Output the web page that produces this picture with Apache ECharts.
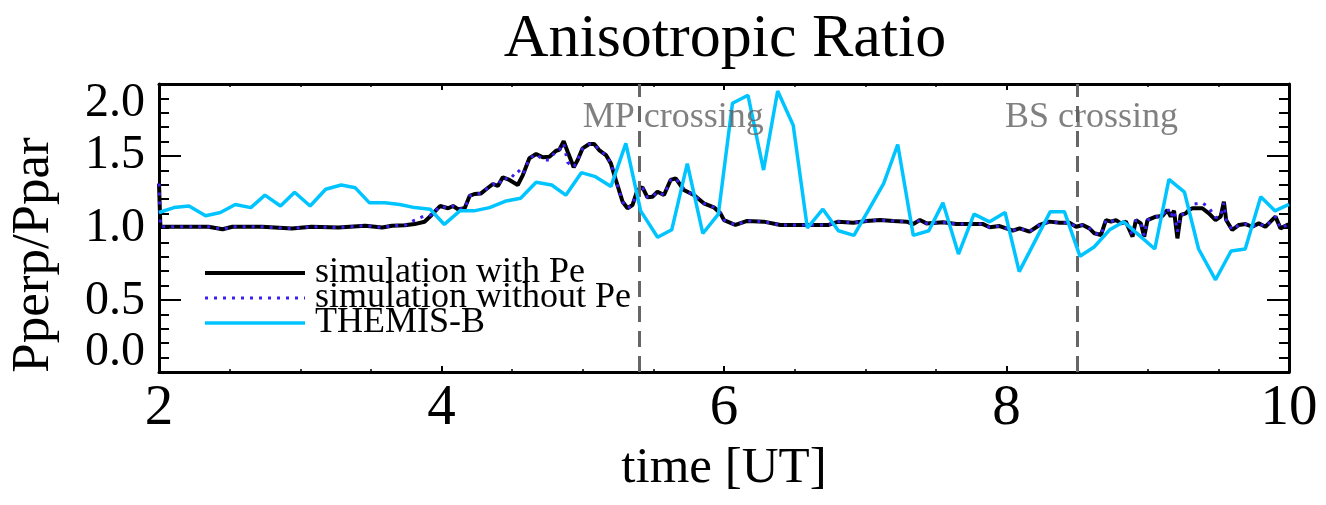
<!DOCTYPE html>
<html>
<head>
<meta charset="utf-8">
<script src="https://cdn.jsdelivr.net/npm/echarts@6/dist/echarts.min.js"></script>
<style>
  html, body { margin: 0; padding: 0; background: #fff; }
  #chart { width: 1326px; height: 505px; }
</style>
</head>
<body>
<div id="chart"></div>
<script>
// ---------------- data ----------------
const titleText = 'Anisotropic Ratio';
const xAxisName = 'time [UT]';
const yAxisName = 'Pperp/Ppar';
const seriesNames = ['simulation with Pe', 'simulation without Pe', 'THEMIS-B'];

// x ticks
const xMin = 2, xMax = 10, xInterval = 2;

// y axis: drawn in natural-log space of the ratio
const yAxisMin = -0.8, yAxisMax = 0.8;
const yTickRatios = [0.5, 0.6667, 1.0, 1.5, 2.0];
const yTickLabels = ['0.0', '0.5', '1.0', '1.5', '2.0'];
const yMajorTickRatios = [0.6703, 1.4918];

// simulation time samples [UT hours]
const simTime = [
  2.0, 2.01, 2.047, 2.19, 2.35, 2.45, 2.52, 2.73, 2.94, 3.08, 3.27, 3.46, 3.58, 3.65, 3.74, 3.81, 3.88, 3.93, 3.99,
  4.047, 4.082, 4.117, 4.164, 4.199, 4.234, 4.28, 4.316, 4.364, 4.399, 4.434, 4.481, 4.54, 4.576, 4.622, 4.67,
  4.717, 4.764, 4.811, 4.834, 4.865, 4.893, 4.936, 4.964, 4.999, 5.046, 5.081, 5.116, 5.164, 5.199, 5.234,
  5.282, 5.317, 5.352, 5.387, 5.423, 5.458, 5.493, 5.529, 5.575, 5.622, 5.658, 5.716, 5.787, 5.857, 5.928,
  5.975, 6.0, 6.081, 6.164, 6.281, 6.399, 6.563, 6.74, 6.81, 6.916, 7.01, 7.104, 7.198, 7.293, 7.34, 7.387,
  7.434, 7.551, 7.646, 7.834, 7.881, 7.951, 7.999, 8.045, 8.093, 8.163, 8.234, 8.304, 8.375, 8.445, 8.493,
  8.54, 8.587, 8.622, 8.669, 8.704, 8.74, 8.775, 8.81, 8.845, 8.892, 8.916, 8.951, 8.975, 8.998, 9.057,
  9.104, 9.139, 9.163, 9.186, 9.21, 9.233, 9.269, 9.292, 9.316, 9.386, 9.433, 9.48, 9.516, 9.539, 9.555,
  9.598, 9.645, 9.692, 9.739, 9.786, 9.833, 9.869, 9.904, 9.94, 9.986, 10.0
];
const simWithPe = [
  1.28, 1.007, 1.007, 1.007, 1.007, 0.993, 1.007, 1.007, 0.997, 1.007, 1.003, 1.013, 1.003, 1.013, 1.015, 1.022, 1.035, 1.075, 1.13,
  1.116, 1.13, 1.11, 1.116, 1.195, 1.208, 1.212, 1.24, 1.277, 1.263, 1.325, 1.306, 1.27, 1.342, 1.473, 1.508,
  1.481, 1.486, 1.536, 1.543, 1.62, 1.528, 1.401, 1.459, 1.557, 1.595, 1.595, 1.542, 1.50, 1.432, 1.306,
  1.157, 1.116, 1.136, 1.235, 1.254, 1.186, 1.19, 1.223, 1.201, 1.306, 1.318, 1.235, 1.201, 1.147, 1.122,
  1.085, 1.045, 1.017, 1.04, 1.036, 1.017, 1.017, 1.017, 1.036, 1.03, 1.04, 1.045, 1.04, 1.036, 1.022, 1.045,
  1.026, 1.032, 1.022, 1.022, 1.004, 1.011, 0.998, 0.985, 0.998, 0.98, 1.017, 1.036, 1.03, 1.03, 1.007,
  1.017, 0.998, 0.971, 0.962, 1.045, 1.036, 1.045, 1.026, 1.036, 0.953, 1.045, 1.026, 0.953, 1.045, 1.065,
  1.069, 1.105, 1.065, 1.101, 0.944, 1.075, 1.085, 1.105, 1.116, 1.116, 1.085, 1.045, 1.065, 1.157, 1.045,
  0.989, 1.017, 1.022, 1.007, 1.026, 1.007, 1.036, 1.065, 0.998, 1.017, 1.02
];
const simWithoutPe = [
  1.28, 1.007, 1.007, 1.007, 1.007, 0.993, 1.007, 1.007, 0.997, 1.007, 1.003, 1.013, 1.003, 1.013, 1.015, 1.045, 1.07, 1.075, 1.13,
  1.116, 1.13, 1.11, 1.116, 1.195, 1.208, 1.212, 1.24, 1.277, 1.263, 1.325, 1.306, 1.38, 1.342, 1.473, 1.508,
  1.46, 1.46, 1.536, 1.543, 1.60, 1.44, 1.401, 1.459, 1.557, 1.595, 1.595, 1.542, 1.50, 1.432, 1.306,
  1.157, 1.116, 1.136, 1.235, 1.254, 1.186, 1.19, 1.223, 1.201, 1.306, 1.318, 1.235, 1.201, 1.147, 1.122,
  1.085, 1.045, 1.017, 1.04, 1.036, 1.017, 1.017, 1.017, 1.036, 1.03, 1.04, 1.045, 1.04, 1.036, 1.022, 1.045,
  1.026, 1.032, 1.022, 1.022, 1.004, 1.011, 0.998, 0.985, 0.998, 0.98, 1.017, 1.036, 1.03, 1.03, 1.007,
  1.017, 0.998, 0.971, 0.962, 1.045, 1.036, 1.045, 1.026, 1.036, 0.96, 1.045, 1.026, 0.96, 1.045, 1.065,
  1.069, 1.12, 1.065, 1.101, 0.98, 1.075, 1.085, 1.105, 1.14, 1.15, 1.12, 1.06, 1.065, 1.15, 1.045,
  0.989, 1.017, 1.022, 1.007, 1.026, 1.007, 1.036, 1.065, 0.998, 1.017, 1.02
];

// THEMIS-B observation
const themisTime = [
  2.0, 2.106, 2.212, 2.33, 2.435, 2.54, 2.65, 2.75, 2.86, 2.96, 3.07, 3.18, 3.29, 3.39, 3.49, 3.60, 3.705, 3.81, 3.92,
  4.02, 4.13, 4.23, 4.34, 4.45, 4.56, 4.67, 4.78, 4.88, 4.99, 5.09, 5.20, 5.305, 5.41, 5.53, 5.63, 5.74, 5.85, 5.96,
  6.06, 6.17, 6.28, 6.38, 6.49, 6.59, 6.70, 6.81, 6.92, 7.02, 7.13, 7.23, 7.34, 7.45, 7.55, 7.66, 7.77, 7.88, 7.99,
  8.09, 8.31, 8.41, 8.52, 8.62, 8.73, 8.83, 8.94, 9.05, 9.15, 9.26, 9.36, 9.48, 9.59, 9.69, 9.80, 9.90, 10.0
];
const themisB = [
  1.09, 1.12, 1.13, 1.07, 1.09, 1.14, 1.12, 1.20, 1.13, 1.22, 1.13, 1.24, 1.27, 1.25, 1.15, 1.15, 1.14, 1.12, 1.11,
  1.02, 1.10, 1.10, 1.12, 1.16, 1.18, 1.29, 1.27, 1.20, 1.36, 1.33, 1.26, 1.60, 1.10, 0.95, 0.99, 1.43, 0.97, 1.08,
  2.00, 2.09, 1.38, 2.14, 1.77, 1.00, 1.11, 0.985, 0.96, 1.10, 1.28, 1.59, 0.96, 0.985, 1.15, 0.865, 1.08, 1.035, 1.09,
  0.785, 1.095, 1.095, 0.855, 0.90, 0.99, 1.035, 0.96, 0.89, 1.31, 1.22, 0.89, 0.75, 0.88, 0.89, 1.19, 1.10, 1.14
];

// boundary crossings
const crossingTime = [5.4, 8.5];
const crossingLabel = ['MP crossing', 'BS crossing'];
const crossingLabelTime = [5.0, 7.99];
const crossingLabelRatio = 1.85;

// ---------------- chart ----------------
const FONT = '"Liberation Serif", "DejaVu Serif", serif';
const toAxis = r => Math.log(r);
const pairs = (ts, vs) => ts.map((t, i) => [t, toAxis(vs[i])]);

const yLabelVals = yTickRatios.map(toAxis);
const yMajorVals = yMajorTickRatios.map(toAxis);
const yMinorVals = [];
for (let k = 1; k < 20; k++) yMinorVals.push(yAxisMin + k * 0.08);

function yLabelFormatter(v) {
  let best = 0, bd = Infinity;
  yLabelVals.forEach((lv, i) => { const d = Math.abs(lv - v); if (d < bd) { bd = d; best = i; } });
  return yTickLabels[best];
}

const axisLine = { show: true, onZero: false, lineStyle: { color: '#000', width: 3 } };

function xAx(pos, showLabel) {
  return {
    type: 'value', min: xMin, max: xMax, interval: xInterval, position: pos,
    axisLine: axisLine,
    axisTick: { show: true, inside: true, length: 6, lineStyle: { color: '#000', width: 2 } },
    minorTick: { show: true, splitNumber: 4, length: 3, lineStyle: { color: '#000', width: 1.5 } },
    splitLine: { show: false }, minorSplitLine: { show: false },
    axisLabel: { show: showLabel, fontFamily: FONT, fontSize: 57, color: '#000', margin: 9 },
    name: showLabel ? xAxisName : '', nameLocation: 'middle', nameGap: 71,
    nameTextStyle: { fontFamily: FONT, fontSize: 51, color: '#000' }
  };
}
function yAx(pos, ticks, len, showLabel, showLine) {
  return {
    type: 'value', min: yAxisMin, max: yAxisMax, interval: 0.4, position: pos,
    axisLine: showLine ? axisLine : { show: false },
    axisTick: { show: true, inside: true, length: len, customValues: ticks, lineStyle: { color: '#000', width: 2 } },
    splitLine: { show: false },
    axisLabel: showLabel ? { show: true, customValues: yLabelVals, formatter: yLabelFormatter,
      fontFamily: FONT, fontSize: 48, color: '#000', margin: 14 } : { show: false },
    name: showLabel ? yAxisName : '', nameLocation: 'middle', nameGap: 98, nameRotate: 90,
    nameTextStyle: { fontFamily: FONT, fontSize: 53, color: '#000', padding: [0, 54, 0, 0] }
  };
}

const option = {
  backgroundColor: '#fff',
  animation: false,
  title: {
    text: titleText, left: 720, top: 4, textAlign: 'center',
    textStyle: { fontFamily: FONT, fontSize: 62, fontWeight: 'normal', color: '#000' }
  },
  grid: { left: 157, right: 37, top: 84, bottom: 133, containLabel: false },
  legend: {
    orient: 'vertical', left: 198, top: 250, itemWidth: 100, itemHeight: 14, itemGap: -11,
    data: seriesNames,
    itemStyle: { opacity: 0 },
    lineStyle: { width: 'inherit' },
    textStyle: { fontFamily: FONT, fontSize: 36, color: '#000', padding: [0, 0, 0, 5] }
  },
  xAxis: [xAx('bottom', true), xAx('top', false)],
  yAxis: [
    yAx('left', yMajorVals, 22, true, true),
    yAx('left', yMinorVals, 10, false, false),
    yAx('right', yMajorVals, 22, false, true),
    yAx('right', yMinorVals, 10, false, false)
  ],
  series: [
    { name: seriesNames[0], type: 'line', data: pairs(simTime, simWithPe), symbol: 'none',
      lineStyle: { color: '#000', width: 4 }, itemStyle: { color: '#000' }, z: 3 },
    { name: seriesNames[1], type: 'line', data: pairs(simTime, simWithoutPe), symbol: 'none',
      lineStyle: { color: '#3a1ff0', width: 3, type: [3, 6] }, itemStyle: { color: '#3a1ff0' }, z: 4 },
    { name: seriesNames[2], type: 'line', data: pairs(themisTime, themisB), symbol: 'none',
      lineStyle: { color: '#00c4ff', width: 3.5 }, itemStyle: { color: '#00c4ff' }, z: 5 },
    { name: 'crossings', type: 'scatter', symbolSize: 0, z: 6,
      data: crossingLabelTime.map((t, i) => ({ value: [t, toAxis(crossingLabelRatio)],
        label: { formatter: crossingLabel[i] } })),
      label: { show: true, position: 'right', distance: 0, color: '#606060', fontFamily: FONT, fontSize: 36 },
      markLine: { symbol: 'none', silent: true, label: { show: false },
        lineStyle: { color: '#666666', width: 3, type: [16, 9] },
        data: crossingTime.map(t => ({ xAxis: t })) } }
  ]
};

const chart = echarts.init(document.getElementById('chart'), null, { renderer: 'canvas' });
chart.setOption(option);
</script>
</body>
</html>
